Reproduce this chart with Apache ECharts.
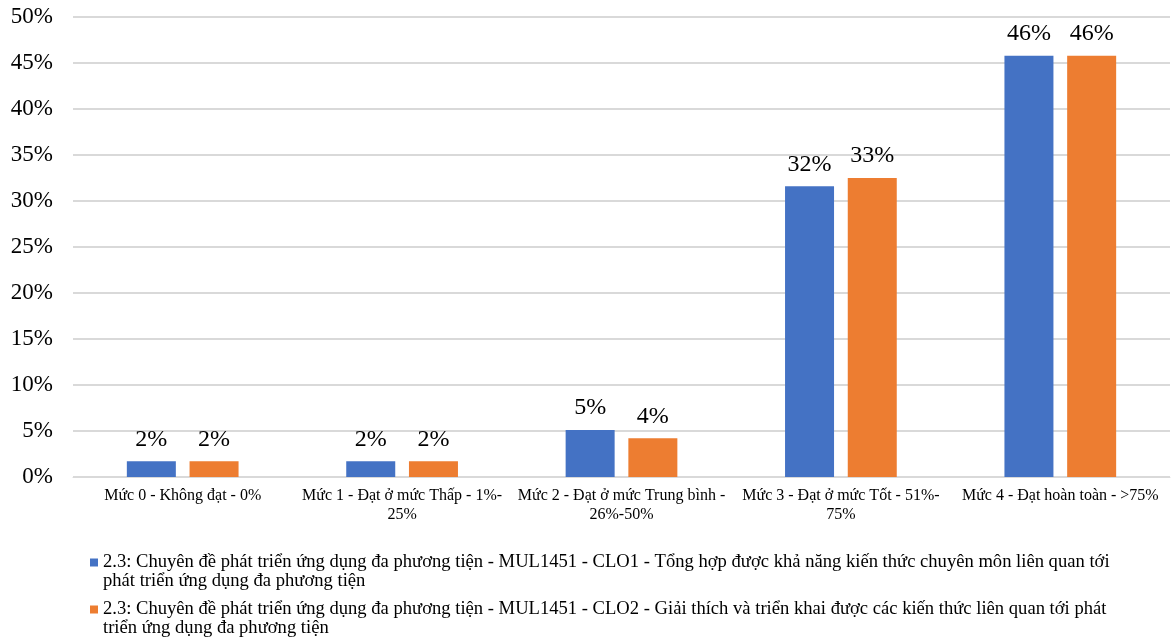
<!DOCTYPE html>
<html><head><meta charset="utf-8">
<script src="https://cdn.jsdelivr.net/npm/echarts@6/dist/echarts.min.js"></script>
<style>html,body{margin:0;padding:0;background:#fff}#c{width:1173px;height:642px}</style>
</head><body><div id="c"></div>
<script>
const categories = [
  'Mức 0 - Không đạt - 0%',
  'Mức 1 - Đạt ở mức Thấp - 1%-\n25%',
  'Mức 2 - Đạt ở mức Trung bình -\n26%-50%',
  'Mức 3 - Đạt ở mức Tốt - 51%-\n75%',
  'Mức 4 - Đạt hoàn toàn - >75%'
];
const seriesNames = [
  '2.3: Chuyên đề phát triển ứng dụng đa phương tiện - MUL1451 - CLO1 - Tổng hợp được khả năng kiến thức chuyên môn liên quan tới\nphát triển ứng dụng đa phương tiện',
  '2.3: Chuyên đề phát triển ứng dụng đa phương tiện - MUL1451 - CLO2 - Giải thích và triển khai được các kiến thức liên quan tới phát\ntriển ứng dụng đa phương tiện'
];
const clo1 = [1.7, 1.7, 5.1, 31.6, 45.8];
const clo2 = [1.7, 1.7, 4.2, 32.5, 45.8];
const yTicks = [0, 5, 10, 15, 20, 25, 30, 35, 40, 45, 50];
const colors = ['#4472C4', '#ED7D31'];

const font = 'Liberation Serif, Times New Roman, serif';
const chart = echarts.init(document.getElementById('c'));
const mk = (name, data, color) => ({
  name, type: 'bar', data, barWidth: 49, barGap: '28%',
  itemStyle: { color },
  label: { show: true, position: 'top', distance: 10, color: '#000', fontFamily: font, fontSize: 24,
    formatter: p => Math.round(p.value) + '%' }
});
const leg = (name, top) => ({
  orient: 'vertical', left: 85, top, itemWidth: 8, itemHeight: 8, icon: 'rect',
  formatter: n => '{e| }\n' + n.split('\n').map(s => '{t|' + s + '}').join('\n'),
  textStyle: { fontFamily: font, fontSize: 18.6, color: '#000', lineHeight: 19,
    rich: { e: { fontSize: 18.6, lineHeight: 19 }, t: { fontFamily: font, fontSize: 18.6, lineHeight: 19, color: '#000' } } },
  data: [name]
});
chart.setOption({
  animation: false,
  textStyle: { fontFamily: font },
  grid: { left: 73, right: 3, top: 17, bottom: 165, containLabel: false },
  legend: [leg(seriesNames[0], 529), leg(seriesNames[1], 576)],
  xAxis: {
    type: 'category', data: categories,
    axisLine: { lineStyle: { color: '#d9d9d9', width: 1 } },
    axisTick: { show: false },
    axisLabel: { fontFamily: font, fontSize: 16, color: '#000', lineHeight: 19, margin: 9, interval: 0 }
  },
  yAxis: {
    type: 'value', min: yTicks[0], max: yTicks[yTicks.length - 1], interval: 5,
    axisLine: { show: false }, axisTick: { show: false },
    splitLine: { lineStyle: { color: '#d9d9d9', width: 2 } },
    axisLabel: { fontFamily: font, fontSize: 23, color: '#000', margin: 20, formatter: v => v + '%' }
  },
  series: [mk(seriesNames[0], clo1, colors[0]), mk(seriesNames[1], clo2, colors[1])]
});
</script></body></html>
